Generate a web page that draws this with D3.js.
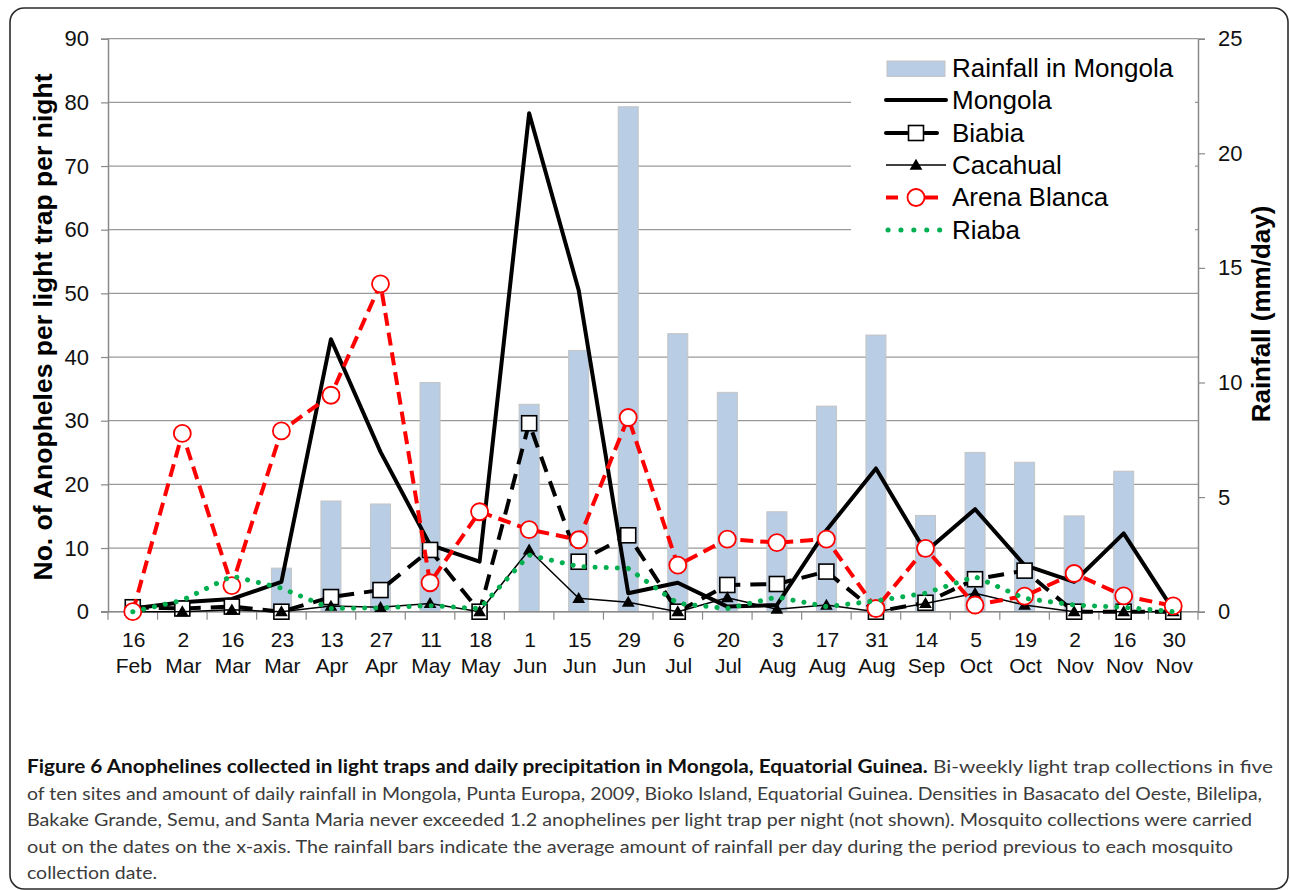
<!DOCTYPE html>
<html>
<head>
<meta charset="utf-8">
<script src="https://cdn.jsdelivr.net/npm/d3@7"></script>
<style>
  html, body { margin: 0; padding: 0; background: #fff; }
  svg { display: block; }
</style>
</head>
<body>
<svg id="chart" width="1290" height="890"></svg>
<script>
// ---------- DATA ----------
const dayLabels   = ["16","2","16","23","13","27","11","18","1","15","29","6","20","3","17","31","14","5","19","2","16","30"];
const monthLabels = ["Feb","Mar","Mar","Mar","Apr","Apr","May","May","Jun","Jun","Jun","Jul","Jul","Aug","Aug","Aug","Sep","Oct","Oct","Nov","Nov","Nov"];
const rainfall    = [0, 0, 0, 1.9, 4.83, 4.7, 10.0, 0, 9.05, 11.4, 22.03, 12.13, 9.57, 4.36, 8.97, 12.07, 4.2, 6.95, 6.52, 4.18, 6.13, 0];
const mongola     = [0.5, 1.5, 2.0, 4.7, 42.8, 25.1, 10.5, 7.85, 78.3, 50.5, 2.9, 4.55, 0.8, 1.05, 12.8, 22.5, 9.4, 16.1, 7.3, 4.7, 12.3, 0.3];
const biabia      = [0.7, 0.5, 0.8, 0, 2.3, 3.4, 9.7, 0, 29.6, 7.85, 12.0, 0, 4.2, 4.35, 6.3, 0, 1.4, 5.1, 6.45, 0, 0, 0];
const cacahual    = [0, 0, 0.3, 0, 0.9, 0.7, 1.3, 0, 9.7, 2.1, 1.5, 0, 2.2, 0.4, 1.05, 0, 1.3, 2.9, 1.05, 0, 0, 0];
const arenaBlanca = [0, 28.0, 4.1, 28.4, 34.0, 51.5, 4.55, 15.7, 12.9, 11.3, 30.5, 7.3, 11.4, 10.85, 11.4, 0.5, 9.95, 1.05, 2.45, 6.0, 2.5, 0.9];
const riaba       = [0, 1.8, 5.6, 3.7, 0.5, 0.6, 0.95, 0.5, 8.9, 7.1, 6.8, 1.3, 0.5, 2.3, 0.8, 1.7, 2.9, 5.5, 2.1, 1.05, 0.7, 0];
const leftTicks   = [0, 10, 20, 30, 40, 50, 60, 70, 80, 90];
const rightTicks  = [0, 5, 10, 15, 20, 25];
const legendNames = ["Rainfall in Mongola", "Mongola", "Biabia", "Cacahual", "Arena Blanca", "Riaba"];
const leftTitle   = "No. of Anopheles per light trap per night";
const rightTitle  = "Rainfall (mm/day)";
const captionLines = [
  {bold: "Figure 6 Anophelines collected in light traps and daily precipitation in Mongola, Equatorial Guinea.", text: " Bi-weekly light trap collections in five", len: 1246},
  {bold: "", text: "of ten sites and amount of daily rainfall in Mongola, Punta Europa, 2009, Bioko Island, Equatorial Guinea. Densities in Basacato del Oeste, Bilelipa,", len: 1235},
  {bold: "", text: "Bakake Grande, Semu, and Santa Maria never exceeded 1.2 anophelines per light trap per night (not shown). Mosquito collections were carried", len: 1225},
  {bold: "", text: "out on the dates on the x-axis. The rainfall bars indicate the average amount of rainfall per day during the period previous to each mosquito", len: 1206},
  {bold: "", text: "collection date.", len: 130}
];

// ---------- LAYOUT ----------
const svg = d3.select("#chart");
const FONT = "'Liberation Sans', Arial, sans-serif";
const plot = {left: 108, right: 1198, top: 38.7, bottom: 611.7};
const idx = d3.range(dayLabels.length);

const x = d3.scaleBand().domain(idx).range([plot.left, plot.right]).padding(0);
const cx = i => x(i) + x.bandwidth() / 2;
const yL = d3.scaleLinear().domain([0, 90]).range([plot.bottom, plot.top]);
const yR = d3.scaleLinear().domain([0, 25]).range([plot.bottom, plot.top]);

// frame
svg.append("rect").attr("x", 10).attr("y", 8).attr("width", 1278).attr("height", 881)
  .attr("rx", 14).attr("ry", 14).attr("fill", "#fff").attr("stroke", "#2b2b2b").attr("stroke-width", 1.6);

// gridlines
svg.append("g").selectAll("line").data(leftTicks).join("line")
  .attr("x1", plot.left).attr("x2", plot.right)
  .attr("y1", d => yL(d)).attr("y2", d => yL(d))
  .attr("stroke", "#9a9a9a").attr("stroke-width", 1.2);

// left axis
const gL = svg.append("g").attr("transform", `translate(${plot.left},0)`)
  .call(d3.axisLeft(yL).tickValues(leftTicks).tickSize(7).tickPadding(12));
gL.select(".domain").attr("stroke", "#8a8a8a").attr("stroke-width", 1.5);
gL.selectAll(".tick line").attr("stroke", "#8a8a8a").attr("stroke-width", 1.2);
gL.selectAll(".tick text").attr("font-family", FONT).attr("font-size", 22).attr("fill", "#111");

// right axis
const gR = svg.append("g").attr("transform", `translate(${plot.right},0)`)
  .call(d3.axisRight(yR).tickValues(rightTicks).tickSize(7).tickPadding(13));
gR.select(".domain").attr("stroke", "#8a8a8a").attr("stroke-width", 1.5);
gR.selectAll(".tick line").attr("stroke", "#8a8a8a").attr("stroke-width", 1.2);
gR.selectAll(".tick text").attr("font-family", FONT).attr("font-size", 22).attr("fill", "#111");

// bars
svg.append("g").selectAll("rect").data(idx.filter(i => rainfall[i] > 0)).join("rect")
  .attr("x", i => cx(i) - 10).attr("width", 20)
  .attr("y", i => yR(rainfall[i])).attr("height", i => yR(0) - yR(rainfall[i]))
  .attr("fill", "#b9cde5").attr("stroke", "#c4c4c4").attr("stroke-width", 1);

// x axis
const gX = svg.append("g").attr("transform", `translate(0,${plot.bottom})`);
gX.append("line").attr("x1", plot.left - 7).attr("x2", plot.right).attr("y1", 0).attr("y2", 0)
  .attr("stroke", "#8a8a8a").attr("stroke-width", 1.5);
gX.selectAll("line.tk").data(d3.range(dayLabels.length + 1)).join("line").attr("class", "tk")
  .attr("x1", i => plot.left + i * x.bandwidth()).attr("x2", i => plot.left + i * x.bandwidth())
  .attr("y1", 0).attr("y2", 8).attr("stroke", "#8a8a8a").attr("stroke-width", 1.2);
const xl = svg.append("g").attr("font-family", FONT).attr("font-size", 21).attr("fill", "#111").attr("text-anchor", "middle");
xl.selectAll("text.d").data(idx).join("text").attr("class", "d")
  .attr("x", i => cx(i) + 1).attr("y", 647).text(i => dayLabels[i]);
xl.selectAll("text.m").data(idx).join("text").attr("class", "m")
  .attr("x", i => cx(i) + 1).attr("y", 673).text(i => monthLabels[i]);

// axis titles
svg.append("text").attr("transform", "translate(52,327) rotate(-90)")
  .attr("text-anchor", "middle").attr("font-family", FONT).attr("font-weight", "bold")
  .attr("font-size", 26.5).attr("fill", "#000").text(leftTitle);
svg.append("text").attr("transform", "translate(1270,314) rotate(-90)")
  .attr("text-anchor", "middle").attr("font-family", FONT).attr("font-weight", "bold")
  .attr("font-size", 26).attr("fill", "#000").text(rightTitle);

// ---------- SERIES ----------
const series = [
  {name: "Mongola", data: mongola, color: "#000", width: 4, dash: null, cap: "butt", marker: null},
  {name: "Biabia", data: biabia, color: "#000", width: 4, dash: "16,10", cap: "butt", marker: "square"},
  {name: "Cacahual", data: cacahual, color: "#000", width: 1.5, dash: null, cap: "butt", marker: "triangle"},
  {name: "Arena Blanca", data: arenaBlanca, color: "#ff0000", width: 4, dash: "13,7", cap: "butt", marker: "circle"},
  {name: "Riaba", data: riaba, color: "#00b050", width: 5, dash: "0.1,11", cap: "round", marker: null}
];
const line = d3.line().x((d, i) => cx(i)).y(d => yL(d));

function drawMarker(g, type, px, py) {
  if (type === "square") {
    g.append("rect").attr("x", px - 7.5).attr("y", py - 7.5).attr("width", 15).attr("height", 15)
      .attr("fill", "#fff").attr("stroke", "#000").attr("stroke-width", 1.6);
  } else if (type === "triangle") {
    g.append("path").attr("d", d3.symbol(d3.symbolTriangle, 70)()).attr("transform", `translate(${px},${py + 1})`)
      .attr("fill", "#000");
  } else if (type === "circle") {
    g.append("circle").attr("cx", px).attr("cy", py).attr("r", 8.5)
      .attr("fill", "#fff").attr("stroke", "#ff0000").attr("stroke-width", 1.8);
  }
}

series.forEach(s => {
  const g = svg.append("g");
  g.append("path").attr("d", line(s.data)).attr("fill", "none")
    .attr("stroke", s.color).attr("stroke-width", s.width).attr("stroke-linejoin", "round")
    .attr("stroke-linecap", s.cap).attr("stroke-dasharray", s.dash);
  if (s.marker) s.data.forEach((v, i) => drawMarker(g, s.marker, cx(i), yL(v)));
});

// ---------- LEGEND ----------
const lg = svg.append("g");
lg.append("rect").attr("x", 851).attr("y", 46).attr("width", 344).attr("height", 204).attr("fill", "#fff");
const rowY = [68.7, 100, 133, 165, 197.5, 230];
const lx0 = 886, lx1 = 946, lmid = 916;
lg.append("rect").attr("x", 887).attr("y", 61).attr("width", 58).attr("height", 15.5)
  .attr("fill", "#b9cde5").attr("stroke", "#c4c4c4").attr("stroke-width", 1);
series.forEach((s, k) => {
  const yy = rowY[k + 1];
  if (s.name === "Biabia") {
    lg.append("line").attr("x1", lx0).attr("x2", 907).attr("y1", yy).attr("y2", yy).attr("stroke", "#000").attr("stroke-width", 4).attr("stroke-linecap", "round");
    lg.append("line").attr("x1", 925).attr("x2", 937).attr("y1", yy).attr("y2", yy).attr("stroke", "#000").attr("stroke-width", 4).attr("stroke-linecap", "round");
  } else if (s.name === "Arena Blanca") {
    lg.append("line").attr("x1", lx0).attr("x2", 898).attr("y1", yy).attr("y2", yy).attr("stroke", "#ff0000").attr("stroke-width", 4);
    lg.append("line").attr("x1", 907).attr("x2", 938).attr("y1", yy).attr("y2", yy).attr("stroke", "#ff0000").attr("stroke-width", 4);
  } else if (s.name === "Riaba") {
    lg.append("line").attr("x1", lx0 + 2).attr("x2", lx1).attr("y1", yy).attr("y2", yy).attr("stroke", s.color)
      .attr("stroke-width", 5).attr("stroke-linecap", "round").attr("stroke-dasharray", "0.1,12.8");
  } else {
    lg.append("line").attr("x1", lx0).attr("x2", lx1).attr("y1", yy).attr("y2", yy).attr("stroke", s.color)
      .attr("stroke-width", s.width).attr("stroke-linecap", s.name === "Mongola" ? "round" : "butt");
  }
  if (s.marker) drawMarker(lg, s.marker, lmid, yy);
});
lg.selectAll("text").data(legendNames).join("text")
  .attr("x", 952).attr("y", (d, i) => rowY[i] + 8.7)
  .attr("font-family", FONT).attr("font-size", 26).attr("fill", "#000").text(d => d);

// ---------- CAPTION ----------
const cap = svg.append("g").attr("font-family", "Lato, 'Open Sans', sans-serif").attr("font-size", 18);
captionLines.forEach((ln, k) => {
  const t = cap.append("text").attr("x", 27).attr("y", 773 + k * 26.5)
    .attr("textLength", ln.len).attr("lengthAdjust", "spacingAndGlyphs");
  if (ln.bold) t.append("tspan").attr("font-weight", "bold").attr("fill", "#111").text(ln.bold);
  t.append("tspan").attr("fill", "#3c3c3c").text(ln.text);
});
</script>
</body>
</html>
